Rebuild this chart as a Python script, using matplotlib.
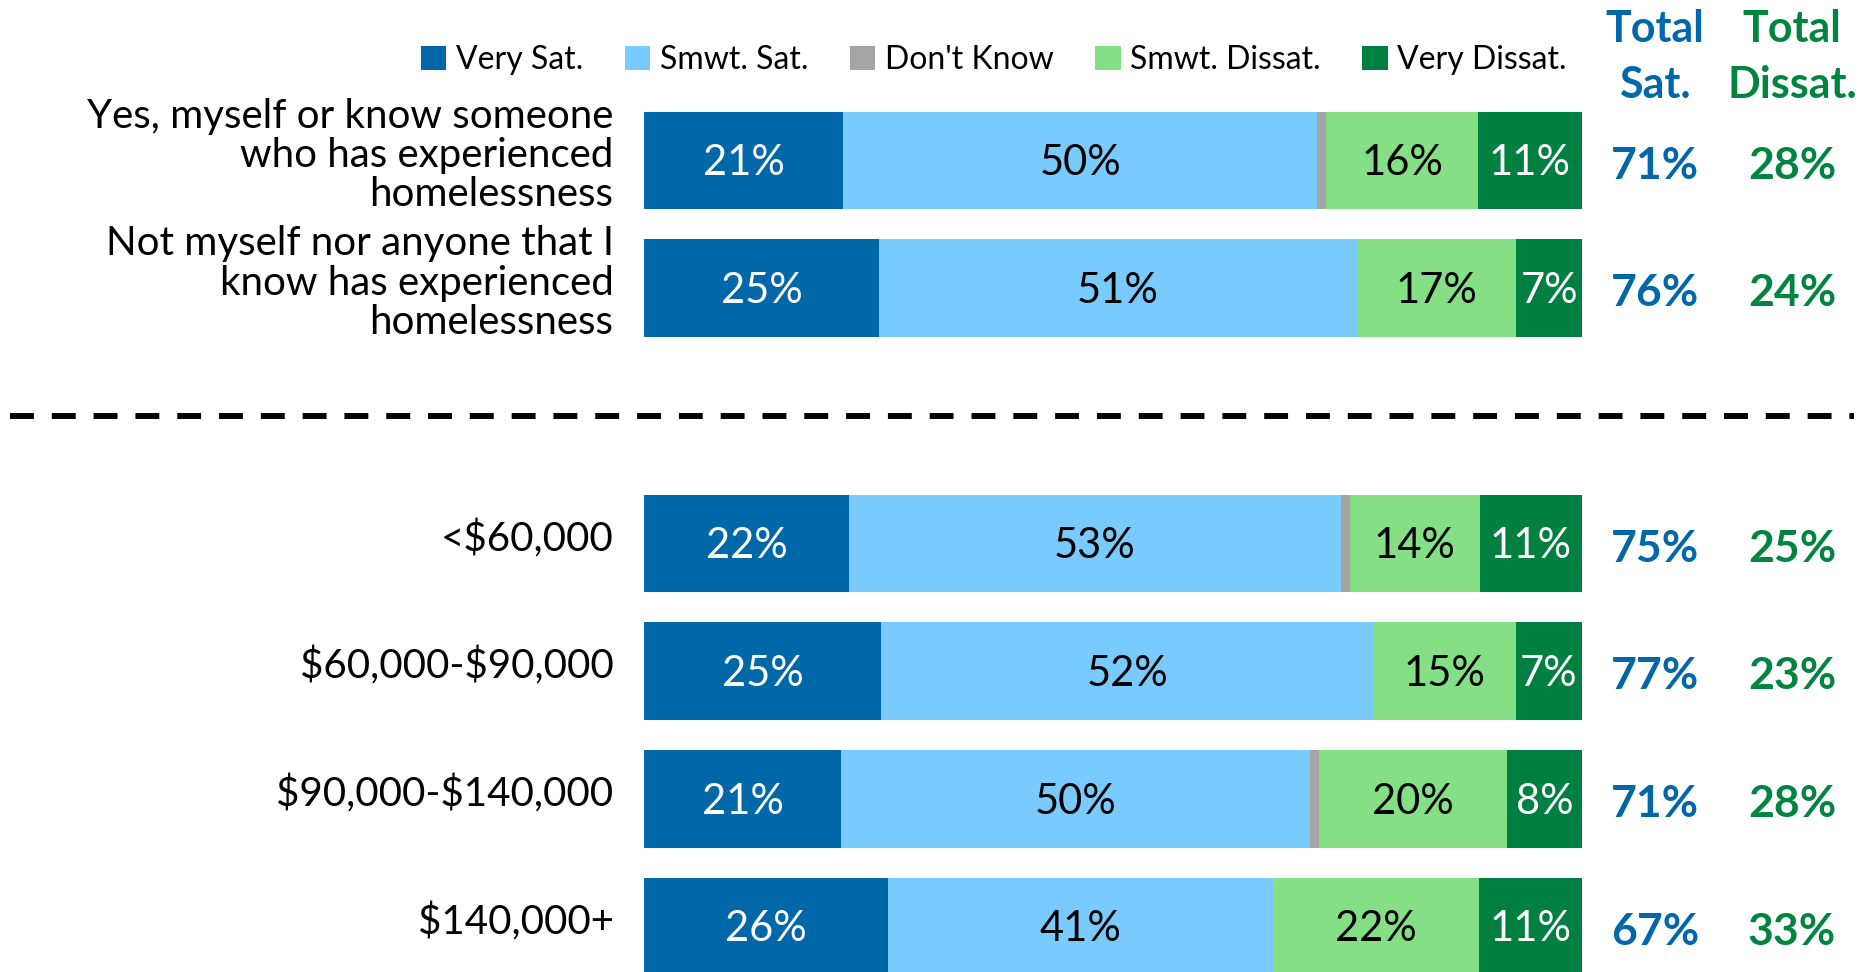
import matplotlib
matplotlib.use("Agg")
import numpy as np
import matplotlib.pyplot as plt
from matplotlib.patches import Patch

plt.rcParams["font.family"] = ["Lato", "DejaVu Sans"]
plt.rcParams["text.parse_math"] = False

groups = ["Yes, myself or know someone\nwho has experienced\nhomelessness",
          "Not myself nor anyone that I\nknow has experienced\nhomelessness",
          "<$60,000", "$60,000-$90,000", "$90,000-$140,000", "$140,000+"]
series = ["Very Sat.", "Smwt. Sat.", "Don't Know", "Smwt. Dissat.", "Very Dissat."]
very_sat = [21, 25, 22, 25, 21, 26]
smwt_sat = [50, 51, 53, 52, 50, 41]
dont_know = [1, 0, 1, 0, 1, 0]
smwt_dissat = [16, 17, 14, 15, 20, 22]
very_dissat = [11, 7, 11, 7, 8, 11]
total_sat = [71, 76, 75, 77, 71, 67]
total_dissat = [28, 24, 25, 23, 28, 33]

colors = ["#0067A9", "#79CAFE", "#A5A5A5", "#85E085", "#008040"]
text_colors = ["white", "black", None, "black", "white"]
blue, green = "#0067A9", "#00843F"

# rows 0-1: homelessness experience, row 2 left empty for the divider, rows 3-6: income
ypos = np.array([0, 1, 3, 4, 5, 6])

fig = plt.figure(figsize=(18.68, 9.72), dpi=100)
ax = fig.add_axes([0.345, 0.0, 0.5019, 1.0])

vals = np.array([very_sat, smwt_sat, dont_know, smwt_dissat, very_dissat], dtype=float)
widths = vals / vals.sum(axis=0) * 100
lefts = np.zeros(len(groups))
for i in range(len(series)):
    ax.barh(ypos, widths[i], left=lefts, height=0.766, color=colors[i], linewidth=0)
    if text_colors[i]:
        for y, l, w, v in zip(ypos, lefts, widths[i], vals[i]):
            if v > 0:
                ax.text(l + w / 2, y + 0.02, f"{v:.0f}%", ha="center", va="center",
                        fontsize=30, color=text_colors[i])
    lefts += widths[i]

for y, g, ts, td in zip(ypos, groups, total_sat, total_dissat):
    ax.text(-3.3, y - 0.04, g, ha="right", va="center", fontsize=29, linespacing=1.07)
    ax.text(107.8, y + 0.04, f"{ts}%", ha="center", va="center", fontsize=32,
            fontweight="bold", color=blue)
    ax.text(122.4, y + 0.04, f"{td}%", ha="center", va="center", fontsize=32,
            fontweight="bold", color=green)

ax.text(107.8, -0.81, "Total\nSat.", ha="center", va="center", fontsize=31,
        fontweight="bold", color=blue, linespacing=1.5)
ax.text(122.4, -0.81, "Total\nDissat.", ha="center", va="center", fontsize=31,
        fontweight="bold", color=green, linespacing=1.5)

# divider between the two groupings
ax.plot([-67.7, 129.0], [2, 2], color="black", lw=4.3, ls=(0, (4, 3)), clip_on=False)

ax.set_xlim(0, 100)
ax.set_ylim(6.355, -1.257)
ax.axis("off")

handles = [Patch(facecolor=c, edgecolor="none") for c in colors]
fig.legend(handles, series, loc="center", bbox_to_anchor=(0.532, 0.938), ncol=5,
           frameon=False, fontsize=23, handlelength=0.8, handleheight=0.8,
           handletextpad=0.3, columnspacing=1.3)

fig.savefig("out.png", dpi=100)
